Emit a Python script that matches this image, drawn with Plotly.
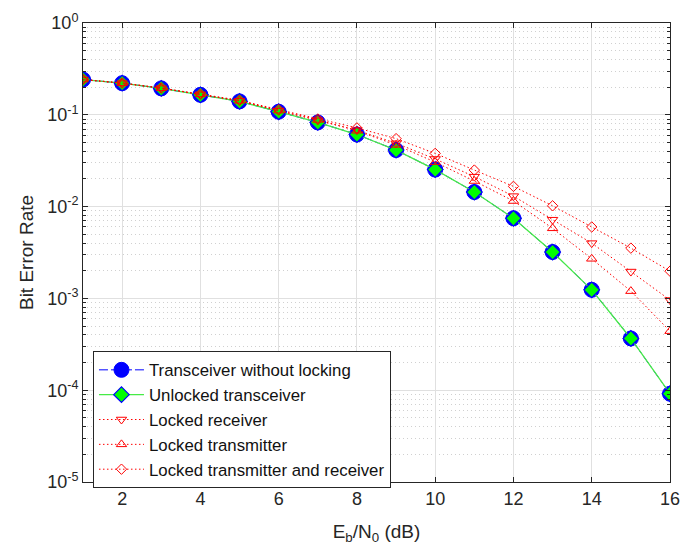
import plotly.graph_objects as go

ebn0_db = list(range(1, 17))
ber_no_lock = [0.242, 0.221, 0.194, 0.165, 0.140, 0.108, 0.0826, 0.061, 0.0413,
               0.0253, 0.0144, 0.00746, 0.0032, 0.00124, 0.000366, 0.0000915]
ber_unlocked = [0.242, 0.221, 0.194, 0.165, 0.140, 0.108, 0.0826, 0.061, 0.0413,
                0.0253, 0.0144, 0.00746, 0.0032, 0.00124, 0.000366, 0.0000915]
ber_locked_rx = [0.242, 0.221, 0.195, 0.167, 0.142, 0.111, 0.087, 0.068, 0.049,
                 0.033, 0.0212, 0.013, 0.0072, 0.0040, 0.00196, 0.00096]
ber_locked_tx = [0.242, 0.221, 0.195, 0.167, 0.142, 0.111, 0.088, 0.067, 0.047,
                 0.0305, 0.019, 0.0115, 0.0058, 0.0027, 0.0012, 0.00044]
ber_locked_both = [0.243, 0.222, 0.196, 0.168, 0.144, 0.114, 0.090, 0.072, 0.055,
                   0.038, 0.025, 0.0166, 0.0102, 0.0060, 0.00353, 0.00198]

series_names = ["Transceiver without locking", "Unlocked transceiver", "Locked receiver",
                "Locked transmitter", "Locked transmitter and receiver"]

x_ticks = [2, 4, 6, 8, 10, 12, 14, 16]
y_tick_vals = [1e-5, 1e-4, 1e-3, 1e-2, 1e-1, 1]
y_tick_text = ["10<sup>-5</sup>", "10<sup>-4</sup>", "10<sup>-3</sup>",
               "10<sup>-2</sup>", "10<sup>-1</sup>", "10<sup>0</sup>"]
y_minor_vals = [m * 10.0 ** e for e in range(-5, 0) for m in range(2, 10)]

FONT = "Liberation Sans, Arial, Helvetica, sans-serif"
AX = "#262626"
DOT = "1.5px,2.5px"

fig = go.Figure()
fig.add_trace(go.Scatter(
    x=ebn0_db, y=ber_no_lock, name=series_names[0], mode="lines+markers",
    line=dict(color="blue", width=1, dash="dashdot"),
    marker=dict(symbol="circle", size=15, color="blue", line=dict(color="blue", width=1))))
fig.add_trace(go.Scatter(
    x=ebn0_db, y=ber_unlocked, name=series_names[1], mode="lines+markers",
    line=dict(color="rgb(70,235,70)", width=1.3),
    marker=dict(symbol="diamond", size=12, color="rgb(0,255,0)", line=dict(color="blue", width=1.2))))
fig.add_trace(go.Scatter(
    x=ebn0_db, y=ber_locked_rx, name=series_names[2], mode="lines+markers",
    line=dict(color="red", width=1, dash=DOT),
    marker=dict(symbol="triangle-down-open", size=9, color="red", line=dict(color="red", width=1))))
fig.add_trace(go.Scatter(
    x=ebn0_db, y=ber_locked_tx, name=series_names[3], mode="lines+markers",
    line=dict(color="red", width=1, dash=DOT),
    marker=dict(symbol="triangle-up-open", size=9, color="red", line=dict(color="red", width=1))))
fig.add_trace(go.Scatter(
    x=ebn0_db, y=ber_locked_both, name=series_names[4], mode="lines+markers",
    line=dict(color="red", width=1, dash=DOT),
    marker=dict(symbol="diamond-open", size=8, color="red", line=dict(color="red", width=1))))

fig.update_layout(
    width=691, height=550,
    margin=dict(l=83, r=11, t=12, b=67),
    paper_bgcolor="white", plot_bgcolor="white",
    font=dict(family=FONT, color=AX, size=18),
    showlegend=True,
    legend=dict(
        x=0.017, y=0.2845, xanchor="left", yanchor="top",
        bgcolor="white", bordercolor=AX, borderwidth=1,
        font=dict(family=FONT, size=16.8, color="#111111"),
        itemwidth=45, tracegroupgap=0,
    ),
    xaxis=dict(
        range=[1, 16], tickvals=x_ticks, ticks="inside", ticklen=5, tickcolor=AX,
        showline=True, linecolor=AX, linewidth=1, mirror="ticks",
        showgrid=True, gridcolor="rgb(224,224,224)", gridwidth=1, zeroline=False,
        tickfont=dict(size=18, color=AX), ticklabeloverflow="allow",
        title=dict(text="E<sub>b</sub>/N<sub>0</sub> (dB)", font=dict(size=19, color=AX), standoff=17),
    ),
    yaxis=dict(
        type="log", range=[-5, 0], tickvals=y_tick_vals, ticktext=y_tick_text,
        ticks="inside", ticklen=5, tickcolor=AX,
        showline=True, linecolor=AX, linewidth=1, mirror="ticks",
        showgrid=True, gridcolor="rgb(224,224,224)", gridwidth=1, zeroline=False,
        tickfont=dict(size=18, color=AX), ticklabeloverflow="allow",
        minor=dict(tickvals=y_minor_vals, ticks="inside", ticklen=3, tickcolor=AX,
                   showgrid=True, gridcolor="rgb(208,208,208)", griddash="1px,3px", gridwidth=1),
        title=dict(text="Bit Error Rate", font=dict(size=19, color=AX), standoff=8),
    ),
)

fig.write_html("out.html", config={"displayModeBar": False},
               post_script="document.body.style.margin='0';document.body.style.overflow='hidden';")
